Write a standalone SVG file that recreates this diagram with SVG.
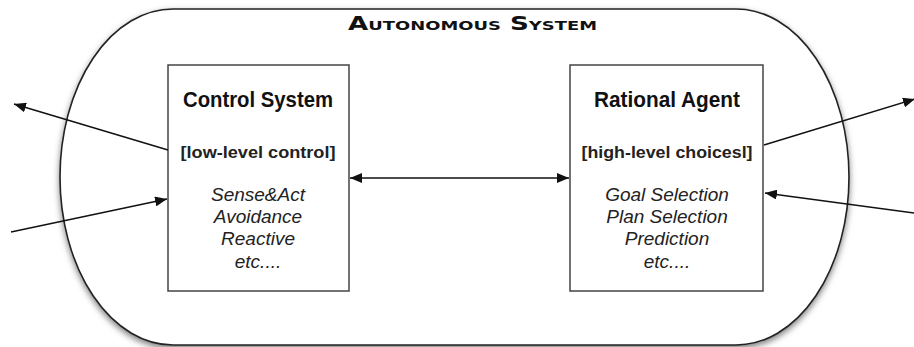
<svg xmlns="http://www.w3.org/2000/svg" width="914" height="347" viewBox="0 0 914 347">
<style>
.outer{fill:#fff;stroke:#222;stroke-width:1.6}
.box{fill:#fff;stroke:#444;stroke-width:1.5}
.title{font-family:"DejaVu Sans","Liberation Sans",sans-serif;font-weight:bold;font-variant:small-caps;font-size:19px;fill:#111}
.head{font-family:"Liberation Sans",Arial,sans-serif;font-weight:bold;font-size:22px;fill:#111;text-anchor:middle}
.sub{font-family:"Liberation Sans",Arial,sans-serif;font-weight:bold;font-size:16px;fill:#222;text-anchor:middle}
.it{font-family:"Liberation Sans",Arial,sans-serif;font-style:italic;font-size:19px;fill:#222;text-anchor:middle}
.conn{stroke:#111;stroke-width:1.5;fill:none}
</style>
<defs>
<filter id="sh" x="-10%" y="-10%" width="120%" height="130%">
<feDropShadow dx="0" dy="3" stdDeviation="3" flood-color="#000" flood-opacity="0.5"/>
</filter>
<marker id="ah" viewBox="0 0 12 10" refX="12" refY="5" markerWidth="12" markerHeight="10" markerUnits="userSpaceOnUse" orient="auto-start-reverse">
<path d="M0,0 L12,5 L0,10 z" fill="#111"/>
</marker>
</defs>
<g id="autonomous-system">
<rect class="outer" x="60" y="9" width="789" height="336" rx="113" ry="168" filter="url(#sh)"/>
<text class="title" x="348" y="30" textLength="249" lengthAdjust="spacingAndGlyphs">Autonomous System</text>
</g>
<g id="control-system">
<rect class="box" x="168" y="65" width="181" height="226"/>
<text class="head" x="258" y="107" textLength="150" lengthAdjust="spacingAndGlyphs">Control System</text>
<text class="sub" x="258" y="158" textLength="155" lengthAdjust="spacingAndGlyphs">[low-level control]</text>
<text class="it" x="258" y="201">Sense&amp;Act</text>
<text class="it" x="258" y="223">Avoidance</text>
<text class="it" x="258" y="245">Reactive</text>
<text class="it" x="258" y="268">etc....</text>
</g>
<g id="rational-agent">
<rect class="box" x="570" y="65" width="193" height="226"/>
<text class="head" x="667" y="107" textLength="146" lengthAdjust="spacingAndGlyphs">Rational Agent</text>
<text class="sub" x="667" y="158" textLength="171" lengthAdjust="spacingAndGlyphs">[high-level choicesl]</text>
<text class="it" x="667" y="201">Goal Selection</text>
<text class="it" x="667" y="223">Plan Selection</text>
<text class="it" x="667" y="245">Prediction</text>
<text class="it" x="667" y="268">etc....</text>
</g>
<g id="connectors">
<line class="conn" x1="168" y1="150" x2="14" y2="104" marker-end="url(#ah)"/>
<line class="conn" x1="11" y1="232" x2="167" y2="199" marker-end="url(#ah)"/>
<line class="conn" x1="350" y1="178" x2="569" y2="178" marker-start="url(#ah)" marker-end="url(#ah)"/>
<line class="conn" x1="764" y1="145" x2="915" y2="99" marker-end="url(#ah)"/>
<line class="conn" x1="914" y1="213" x2="765" y2="193" marker-end="url(#ah)"/>
</g>
</svg>
